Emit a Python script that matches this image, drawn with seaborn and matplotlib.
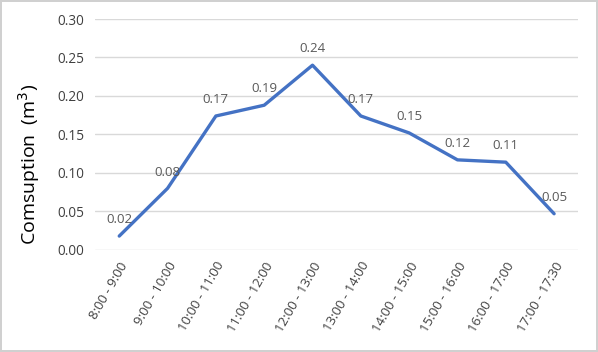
import matplotlib
matplotlib.use("Agg")
import matplotlib.pyplot as plt
import seaborn as sns
import pandas as pd

periods = ["8:00 - 9:00", "9:00 - 10:00", "10:00 - 11:00", "11:00 - 12:00",
           "12:00 - 13:00", "13:00 - 14:00", "14:00 - 15:00", "15:00 - 16:00",
           "16:00 - 17:00", "17:00 - 17:30"]
consumption = [0.018, 0.080, 0.174, 0.188, 0.240, 0.174, 0.152, 0.117, 0.114, 0.047]
labels = ["0.02", "0.08", "0.17", "0.19", "0.24", "0.17", "0.15", "0.12", "0.11", "0.05"]
yticks = [0.00, 0.05, 0.10, 0.15, 0.20, 0.25, 0.30]

sns.set_theme(style="white")
plt.rcParams['font.family'] = ['Open Sans', 'DejaVu Sans']

df = pd.DataFrame({"period": periods, "value": consumption})

fig = plt.figure(figsize=(5.98, 3.52), dpi=100, linewidth=1.5, edgecolor='#d0d0d0')
ax = fig.add_axes([0.159, 0.290, 0.808, 0.656])

sns.lineplot(data=df, x="period", y="value", sort=False, ax=ax,
             color="#4472C4", linewidth=2.4, zorder=3)

for i, (v, t) in enumerate(zip(consumption, labels)):
    ax.annotate(t, (i, v), xytext=(0, 7), textcoords="offset points",
                ha="center", va="bottom", fontsize=9.5, color="#595959", zorder=4)

ax.set_xlim(-0.5, len(periods) - 0.5)
ax.set_ylim(0, 0.30)
ax.set_yticks(yticks)
ax.set_yticklabels([f"{t:.2f}" for t in yticks], fontsize=9.8, color="#404040")
ax.set_xticks(range(len(periods)))
ax.set_xticklabels(periods, rotation=60, ha="right", rotation_mode="anchor",
                   fontsize=9.5, color="#404040")
ax.tick_params(axis="x", length=0, pad=7)
ax.tick_params(axis="y", length=0, pad=8)
ax.yaxis.grid(True, color="#d9d9d9", linewidth=1)
ax.set_axisbelow(True)
for s in ax.spines.values():
    s.set_visible(False)
ax.set_xlabel("")
ax.set_ylabel("Comsuption  (m$^3$)", fontsize=14, color="#000000")
ax.yaxis.set_label_coords(-0.11, 0.37)

fig.savefig("out.png", dpi=100, edgecolor=fig.get_edgecolor())
